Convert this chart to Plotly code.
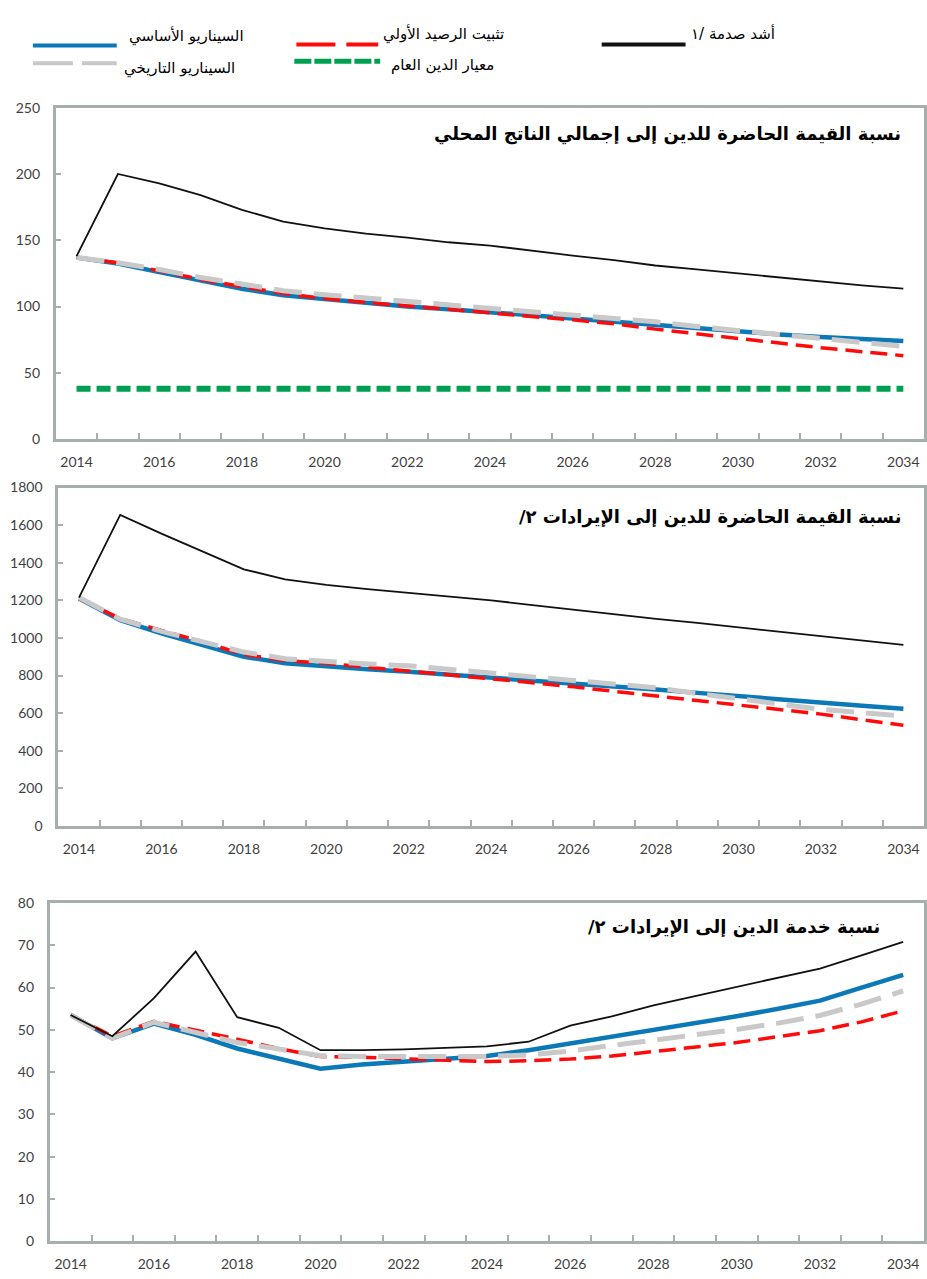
import plotly.graph_objects as go

# ---- data -------------------------------------------------------------
years = [2014, 2015, 2016, 2017, 2018, 2019, 2020, 2021, 2022, 2023, 2024,
         2025, 2026, 2027, 2028, 2029, 2030, 2031, 2032, 2033, 2034]
x_tick_labels = [2014, 2016, 2018, 2020, 2022, 2024, 2026, 2028, 2030, 2032, 2034]

# PV of debt-to-GDP ratio
gdp_baseline = [137, 132.5, 126, 120, 113.5, 108.5, 105.5, 102.5, 100, 98, 96,
                93.5, 91, 88.5, 86, 83.5, 81.5, 79, 77, 75.5, 74]
gdp_constant_pb = [137, 133, 127, 120.5, 115, 110, 106, 103, 100.5, 98, 95,
                   92.5, 90, 87, 83, 79.5, 75.5, 72, 69, 66, 63]
gdp_historical = [137, 133, 128, 122, 117, 112, 109, 106.5, 104, 101, 98.5,
                  96, 93.5, 91, 88.5, 85, 82, 79, 76, 73, 70]
gdp_shock = [138, 200, 193, 184, 173, 164, 159, 155, 152, 148.5, 146,
             142, 138.5, 135, 131, 128, 125, 121.5, 118.5, 116, 113.5]
gdp_threshold = 38

# PV of debt-to-revenue ratio
rev_baseline = [1210, 1095, 1025, 962, 900, 866, 848, 834, 820, 805, 787,
                774, 761, 744, 726, 708, 690, 673, 656, 640, 624]
rev_constant_pb = [1210, 1103, 1040, 980, 912, 880, 865, 845, 825, 803, 782,
                   762, 740, 716, 690, 668, 645, 620, 595, 565, 536]
rev_historical = [1215, 1100, 1035, 980, 925, 890, 875, 862, 852, 832, 812,
                  792, 770, 752, 735, 705, 675, 648, 620, 603, 585]
rev_shock = [1215, 1655, 1555, 1460, 1365, 1312, 1282, 1260, 1240, 1220, 1200,
             1175, 1150, 1127, 1102, 1080, 1056, 1033, 1010, 986, 963]

# Debt service-to-revenue ratio
ds_baseline = [53.5, 48, 51.5, 48.8, 45.6, 43.3, 40.8, 41.8, 42.5, 43.1, 43.8,
               45.2, 46.8, 48.4, 49.9, 51.5, 53.2, 55, 56.9, 60, 63]
ds_constant_pb = [53.5, 48.5, 52, 50, 47.8, 45.6, 43.7, 43.5, 43.1, 42.7, 42.5,
                  42.7, 43.1, 43.8, 44.9, 45.9, 47, 48.4, 49.8, 51.9, 54.5]
ds_historical = [53.5, 48, 51.8, 49.5, 47, 45.5, 43.9, 43.7, 43.7, 43.7, 43.7,
                 44.1, 45, 46.3, 47.6, 48.7, 50.1, 51.6, 53.4, 56.1, 59.2]
ds_shock = [53.5, 48.5, 57.5, 68.5, 53, 50.5, 45.2, 45.2, 45.4, 45.8, 46.1,
            47.2, 51, 53.2, 55.8, 58, 60.2, 62.3, 64.5, 67.6, 70.8]

name_baseline = "السيناريو الأساسي"
name_constant_pb = "تثبيت الرصيد الأولي"
name_historical = "السيناريو التاريخي"
name_shock = "أشد صدمة /١"
name_threshold = "معيار الدين العام"

title_gdp = "نسبة القيمة الحاضرة للدين إلى إجمالي الناتج المحلي"
title_rev = "نسبة القيمة الحاضرة للدين إلى الإيرادات ٢/\u200F"
title_ds = "نسبة خدمة الدين إلى الإيرادات ٢/\u200F"

# ---- styling ----------------------------------------------------------
W, H = 927, 1279
BLUE = "#0B79B8"
RED = "#FF0A0A"
GRAY = "#C9C9C9"
GREEN = "#00A052"
BLACK = "#111111"
AXIS = "#A7AEAE"
ARABIC = "DejaVu Sans, sans-serif"
tick_font = dict(family="Lato, Open Sans, sans-serif", size=14, color="#3F3F3F")

styles = {
    "baseline": dict(color=BLUE, width=4.5),
    "constant_pb": dict(color=RED, width=3.5, dash="17px,8px"),
    "historical": dict(color=GRAY, width=5, dash="28px,12px"),
    "threshold": dict(color=GREEN, width=6, dash="14px,6px"),
    "shock": dict(color=BLACK, width=1.8),
}

half_years = [y + 0.5 for y in years[:-1]]


def fx(px):
    return px / W


def fy(py):
    return 1 - py / H


panels = [
    dict(x0=56, x1=926, top=100, bottom=436, yr=[0, 250], dtick=50,
         series=[("baseline", gdp_baseline), ("constant_pb", gdp_constant_pb),
                 ("historical", gdp_historical),
                 ("threshold", [gdp_threshold] * len(years)),
                 ("shock", gdp_shock)],
         title=title_gdp, tx=905, ty=127),
    dict(x0=58.5, x1=926, top=485, bottom=828, yr=[0, 1800], dtick=200,
         series=[("baseline", rev_baseline), ("constant_pb", rev_constant_pb),
                 ("historical", rev_historical), ("shock", rev_shock)],
         title=title_rev, tx=905, ty=515),
    dict(x0=50, x1=926, top=906, bottom=1249, yr=[0, 80], dtick=10,
         series=[("baseline", ds_baseline), ("constant_pb", ds_constant_pb),
                 ("historical", ds_historical), ("shock", ds_shock)],
         title=title_ds, tx=884, ty=930),
]

fig = go.Figure()
layout = dict(width=W, height=H, margin=dict(l=0, r=0, t=0, b=0),
              paper_bgcolor="white", plot_bgcolor="white", showlegend=False)
annotations = []
shapes = []

for i, p in enumerate(panels, start=1):
    sfx = "" if i == 1 else str(i)
    xref, yref = "x" + sfx, "y" + sfx
    for key, vals in p["series"]:
        fig.add_trace(go.Scatter(x=years, y=vals, mode="lines", line=styles[key],
                                 xaxis=xref, yaxis=yref, hoverinfo="skip"))
    layout["xaxis" + sfx] = dict(
        domain=[fx(p["x0"]), fx(p["x1"])], anchor=yref, range=[2013.5, 2034.5],
        tickmode="array", tickvals=x_tick_labels, ticks="",
        showline=True, mirror=True, linecolor=AXIS, linewidth=3,
        showgrid=False, zeroline=False, tickfont=tick_font, ticklabelstandoff=8,
        minor=dict(tickmode="array", tickvals=half_years, ticks="inside",
                   ticklen=6, tickwidth=2, tickcolor=AXIS, showgrid=False),
    )
    layout["yaxis" + sfx] = dict(
        domain=[fy(p["bottom"]), fy(p["top"])], anchor=xref, range=p["yr"],
        dtick=p["dtick"], ticks="inside", ticklen=5, tickwidth=2, tickcolor=AXIS,
        showline=True, mirror=True, linecolor=AXIS, linewidth=3,
        showgrid=False, zeroline=False, tickfont=tick_font, ticklabelstandoff=10,
    )
    annotations.append(dict(
        text="<b>" + p["title"] + "</b>", xref="paper", yref="paper",
        x=fx(p["tx"]), y=fy(p["ty"]), xanchor="right", yanchor="middle",
        showarrow=False, font=dict(family=ARABIC, size=18, color="black")))

# ---- legend drawn across the top -----------------------------------------
legend_items = [
    ("baseline", name_baseline, 33, 117, 37, 127, 27),
    ("historical", name_historical, 33, 117, 55, 122, 60),
    ("constant_pb", name_constant_pb, 297, 379, 36, 382, 25),
    ("threshold", name_threshold, 295, 381, 53, 390, 57),
    ("shock", name_shock, 603, 687, 36, 690, 25),
]
legend_dash = {"baseline": None, "shock": None, "constant_pb": "39px,11px",
               "historical": "40px,9px", "threshold": "17px,3px"}
legend_width = {"baseline": 4, "shock": 4, "constant_pb": 4,
                "historical": 4, "threshold": 5}
for key, label, lx0, lx1, ly, tx, ty in legend_items:
    line = dict(color=styles[key]["color"], width=legend_width[key])
    if legend_dash[key]:
        line["dash"] = legend_dash[key]
    shapes.append(dict(type="line", xref="paper", yref="paper",
                       x0=fx(lx0), x1=fx(lx1), y0=fy(ly), y1=fy(ly), line=line))
    annotations.append(dict(
        text=label, xref="paper", yref="paper", x=fx(tx), y=fy(ty),
        xanchor="left", yanchor="middle", showarrow=False,
        font=dict(family=ARABIC, size=15, color="black")))

layout["annotations"] = annotations
layout["shapes"] = shapes
fig.update_layout(**layout)

fig.write_html("out.html")
